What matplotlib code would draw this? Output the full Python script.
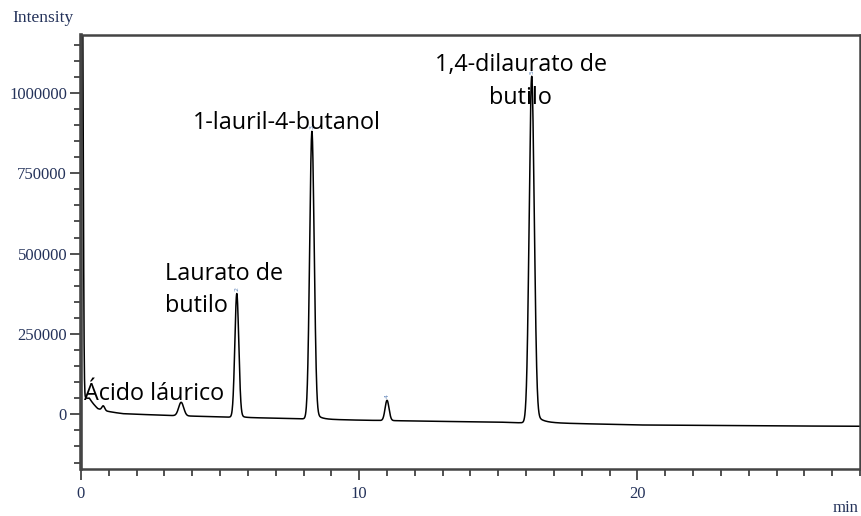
import numpy as np
import matplotlib
matplotlib.use("Agg")
import matplotlib.pyplot as plt
from matplotlib.ticker import MultipleLocator, FuncFormatter

# peak table: retention time (min), height (intensity), width (sigma, min), tailing decay (min)
peak_rt = [0.05, 0.8, 3.6, 5.6, 8.3, 11.0, 16.2]
peak_height = [1400000, 14000, 42000, 385000, 895000, 63000, 1078000]
peak_sigma = [0.03, 0.05, 0.09, 0.07, 0.08, 0.07, 0.09]
peak_tail = [0.25, 0.10, 0.10, 0.12, 0.18, 0.10, 0.25]

# baseline drift
base_t = [0.0, 0.3, 0.6, 1.5, 3.0, 5.0, 8.0, 10.0, 13.0, 15.0, 15.6, 17.0, 20.0, 25.0, 28.0]
base_y = [0, 30000, 12000, 2000, -3000, -8000, -14000, -18000, -22000, -24000, -26000, -27000, -33000, -36000, -37000]

# peak names, one entry per drawn line
label_lines = ["Ácido láurico", "Laurato de", "butilo", "1-lauril-4-butanol",
               "1,4-dilaurato de", "butilo"]
label_x = [0.1, 3.02, 3.02, 4.03, 15.8, 15.8]
label_y = [46000, 418000, 319000, 889000, 1068000, 966000]
label_ha = ["left", "left", "left", "left", "center", "center"]

# small peak numbers printed above the integrated peaks
mark_rt = [5.6, 8.3, 11.0, 16.2]
mark_txt = ["2", "3", "4", "5"]

t = np.linspace(0, 28, 6000)
signal = np.interp(t, base_t, base_y)
for rt, h, s, tail in zip(peak_rt, peak_height, peak_sigma, peak_tail):
    gauss = np.exp(-0.5 * ((t - rt) / s) ** 2)
    tail_part = np.where(t > rt + s, 0.04 * np.exp(-(t - rt) / tail), 0.0)
    signal += h * (gauss + tail_part)

fig = plt.figure(figsize=(8.62, 5.16), dpi=100)
ax = fig.add_axes([81 / 862, 47 / 516, 779 / 862, 434 / 516])

ax.plot(t, signal, color="black", lw=1.1)

ax.set_xlim(0, 28)
ax.set_ylim(-170000, 1180000)

ax.xaxis.set_major_locator(MultipleLocator(10))
ax.xaxis.set_minor_locator(MultipleLocator(1))
ax.yaxis.set_major_locator(MultipleLocator(250000))
ax.yaxis.set_minor_locator(MultipleLocator(50000))
ax.yaxis.set_major_formatter(FuncFormatter(lambda v, p: f"{int(round(v))}"))
ax.set_yticks([0, 250000, 500000, 750000, 1000000])

for sp in ax.spines.values():
    sp.set_color("#444444")
    sp.set_linewidth(1.8)
ax.spines["left"].set_linewidth(2.6)

label_color = "#24325a"
ax.tick_params(axis="both", which="major", direction="out", length=8, width=1.2,
               color="#333333", labelsize=12, labelcolor=label_color, pad=2)
ax.tick_params(axis="both", which="minor", direction="out", length=5, width=1.2, color="#333333")
ax.tick_params(axis="x", which="major", pad=4)
for lab in ax.get_xticklabels() + ax.get_yticklabels():
    lab.set_family("Liberation Serif")

fig.text(12 / 862, 1 - 18 / 516, "Intensity", family="Liberation Serif", fontsize=12.5,
         color=label_color, va="center", ha="left")
fig.text(858 / 862, 1 - 508 / 516, "min", family="Liberation Serif", fontsize=12,
         color=label_color, va="center", ha="right")

for txt, x, y, ha in zip(label_lines, label_x, label_y, label_ha):
    ax.text(x, y, txt, ha=ha, va="baseline", family=["Open Sans", "DejaVu Sans"],
            fontsize=16.8, color="black")

for rt, m in zip(mark_rt, mark_txt):
    i = np.argmin(np.abs(t - rt))
    ax.text(rt, signal[i] + 8000, m, ha="center", va="bottom", fontsize=4.5,
            color="#5f84b8", rotation=90)

fig.savefig("out.png", dpi=100)
